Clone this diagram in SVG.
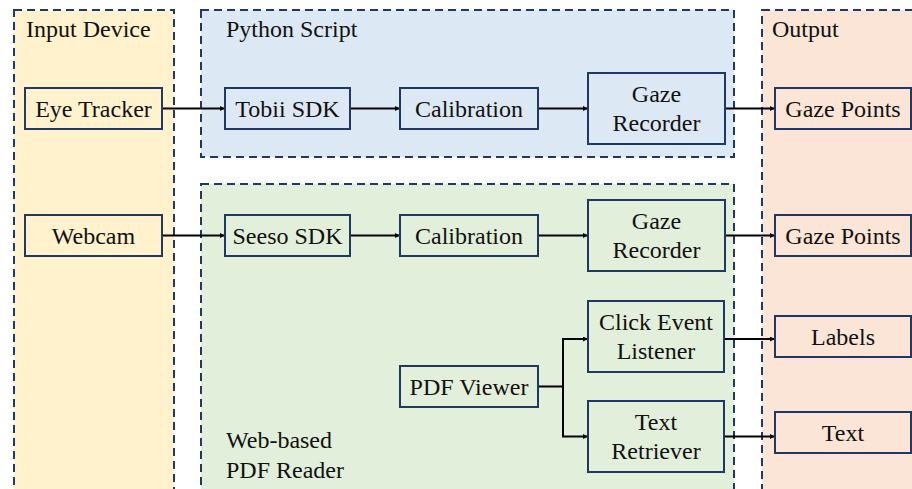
<svg xmlns="http://www.w3.org/2000/svg" width="912" height="489" viewBox="0 0 912 489">
<defs>
<marker id="ah" viewBox="0 0 10 10" refX="10" refY="5" markerWidth="5" markerHeight="5" orient="auto" markerUnits="userSpaceOnUse">
<path d="M0,0 L10,5 L0,10 z" fill="#000"/>
</marker>
<style>
.lane{stroke:#1f3864;stroke-width:2;stroke-dasharray:8 5}
.node{stroke:#1f3864;stroke-width:2}
text{font-family:"Liberation Serif","Times New Roman",serif;font-size:24px;fill:#111}
.c{text-anchor:middle}
.conn{stroke:#000;stroke-width:2;fill:none}
.arr{marker-end:url(#ah)}
</style>
</defs>
<rect width="912" height="489" fill="#fff"/>
<g id="lane-input">
<rect class="lane" x="14" y="10" width="160" height="500" fill="#fff2cc"/>
<text x="26" y="37">Input Device</text>
</g>
<g id="lane-python">
<rect class="lane" x="201" y="10" width="533" height="147" fill="#dde8f5"/>
<text x="226" y="37">Python Script</text>
</g>
<g id="lane-web">
<rect class="lane" x="201" y="184" width="533" height="326" fill="#e2efda"/>
<text x="226" y="448">Web-based</text>
<text x="226" y="478">PDF Reader</text>
</g>
<g id="lane-output">
<rect class="lane" x="762" y="10" width="170" height="500" fill="#fbe5d6"/>
<text x="772" y="37">Output</text>
</g>
<g id="connectors">
<line class="conn arr" x1="162" y1="108.5" x2="225" y2="108.5"/>
<line class="conn arr" x1="350" y1="108.5" x2="400" y2="108.5"/>
<line class="conn arr" x1="538" y1="108.5" x2="588" y2="108.5"/>
<line class="conn arr" x1="725" y1="108.5" x2="775" y2="108.5"/>
<line class="conn arr" x1="162" y1="235.5" x2="225" y2="235.5"/>
<line class="conn arr" x1="350" y1="235.5" x2="400" y2="235.5"/>
<line class="conn arr" x1="538" y1="235.5" x2="588" y2="235.5"/>
<line class="conn arr" x1="725" y1="235.5" x2="775" y2="235.5"/>
<polyline class="conn arr" points="538,386.5 563,386.5 563,339 588,339"/>
<polyline class="conn arr" points="563,386.5 563,436.5 588,436.5"/>
<line class="conn arr" x1="724" y1="339" x2="775" y2="339"/>
<line class="conn arr" x1="724" y1="436.5" x2="775" y2="436.5"/>
</g>
<g id="eye-tracker">
<rect class="node" x="25" y="88" width="137" height="41" fill="#fff2cc"/>
<text class="c" x="93.5" y="117">Eye Tracker</text>
</g>
<g id="tobii-sdk">
<rect class="node" x="225" y="88" width="125" height="41" fill="#dde8f5"/>
<text class="c" x="287.5" y="117">Tobii SDK</text>
</g>
<g id="calibration-1">
<rect class="node" x="400" y="88" width="138" height="41" fill="#dde8f5"/>
<text class="c" x="469" y="117">Calibration</text>
</g>
<g id="gaze-recorder-1">
<rect class="node" x="588" y="73" width="137" height="71" fill="#dde8f5"/>
<text class="c" x="656.5" y="102">Gaze</text>
<text class="c" x="656.5" y="131">Recorder</text>
</g>
<g id="gaze-points-1">
<rect class="node" x="775" y="88" width="136" height="41" fill="#fbe5d6"/>
<text class="c" x="843" y="117">Gaze Points</text>
</g>
<g id="webcam">
<rect class="node" x="25" y="215" width="137" height="41" fill="#fff2cc"/>
<text class="c" x="93.5" y="244">Webcam</text>
</g>
<g id="seeso-sdk">
<rect class="node" x="225" y="215" width="125" height="41" fill="#e2efda"/>
<text class="c" x="287.5" y="244">Seeso SDK</text>
</g>
<g id="calibration-2">
<rect class="node" x="400" y="215" width="138" height="41" fill="#e2efda"/>
<text class="c" x="469" y="244">Calibration</text>
</g>
<g id="gaze-recorder-2">
<rect class="node" x="588" y="200" width="137" height="71" fill="#e2efda"/>
<text class="c" x="656.5" y="229">Gaze</text>
<text class="c" x="656.5" y="258">Recorder</text>
</g>
<g id="gaze-points-2">
<rect class="node" x="775" y="215" width="136" height="41" fill="#fbe5d6"/>
<text class="c" x="843" y="244">Gaze Points</text>
</g>
<g id="pdf-viewer">
<rect class="node" x="400" y="366" width="138" height="41" fill="#e2efda"/>
<text class="c" x="469" y="395">PDF Viewer</text>
</g>
<g id="click-event-listener">
<rect class="node" x="588" y="301" width="136" height="71" fill="#e2efda"/>
<text class="c" x="656" y="330">Click Event</text>
<text class="c" x="656" y="359">Listener</text>
</g>
<g id="text-retriever">
<rect class="node" x="588" y="401" width="136" height="71" fill="#e2efda"/>
<text class="c" x="656" y="430">Text</text>
<text class="c" x="656" y="459">Retriever</text>
</g>
<g id="labels">
<rect class="node" x="775" y="316" width="136" height="41" fill="#fbe5d6"/>
<text class="c" x="843" y="345">Labels</text>
</g>
<g id="text-out">
<rect class="node" x="775" y="412" width="136" height="41" fill="#fbe5d6"/>
<text class="c" x="843" y="441">Text</text>
</g>
</svg>
